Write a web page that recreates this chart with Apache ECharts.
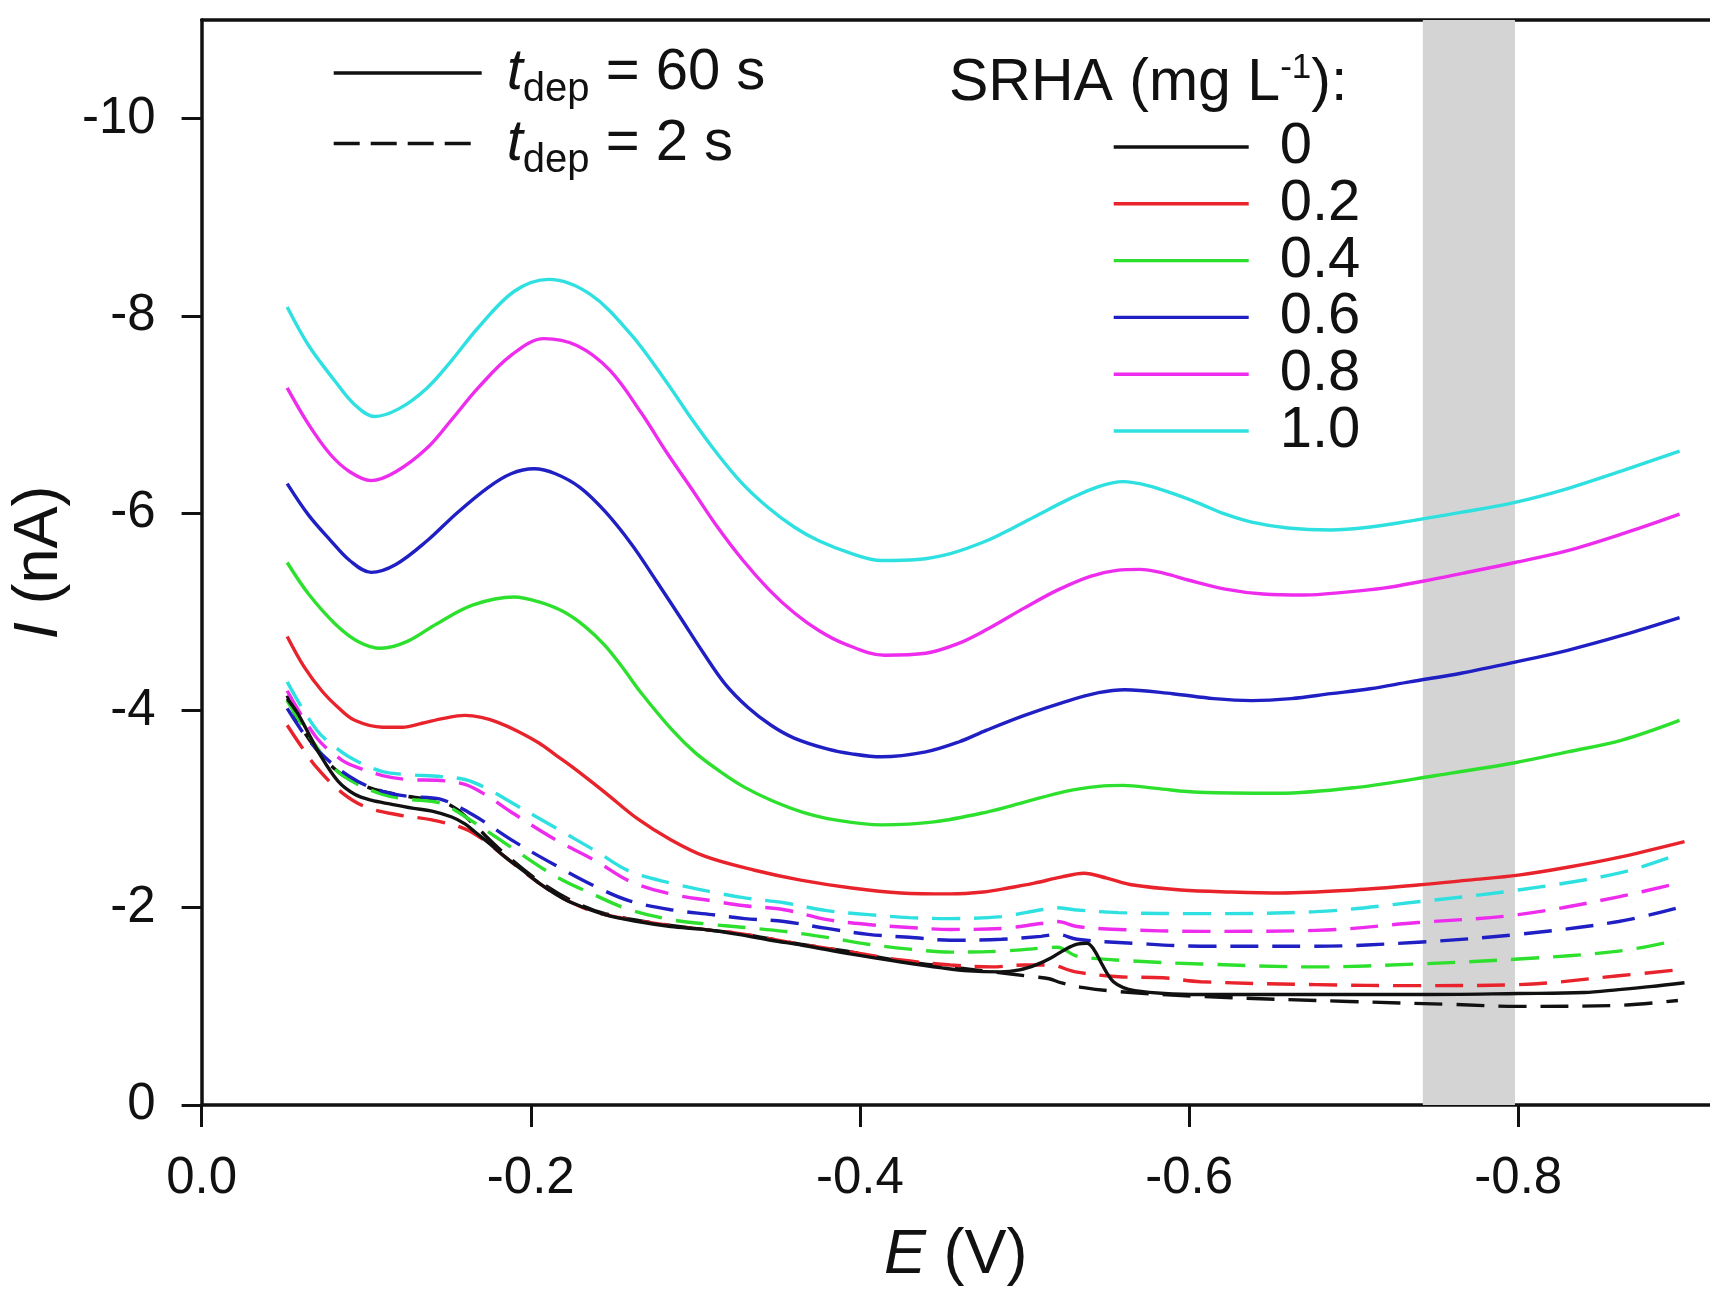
<!DOCTYPE html>
<html>
<head>
<meta charset="utf-8">
<script src="https://cdn.jsdelivr.net/npm/echarts@6/dist/echarts.min.js"></script>
<style>
html,body{margin:0;padding:0;background:#fff;}
#chart{width:1710px;height:1292px;}
</style>
</head>
<body>
<div id="chart"></div>
<script>
// ---------- data (E in V, I in nA) ----------
const concentrations = ['0', '0.2', '0.4', '0.6', '0.8', '1.0'];
const seriesColors = ['#111111', '#e8232b', '#2ee02e', '#1f1fc4', '#ee2cee', '#2fe0e0'];
const xTickValues = [0, -0.2, -0.4, -0.6, -0.8];
const yTickValues = [0, -2, -4, -6, -8, -10];
const bandStart = -0.742, bandEnd = -0.798;

// t_dep = 60 s (solid)
const solid_0 = [[-0.052,-4.12],[-0.058,-3.98],[-0.063,-3.83],[-0.072,-3.55],[-0.083,-3.28],[-0.093,-3.15],[-0.103,-3.09],[-0.115,-3.05],[-0.128,-3.01],[-0.14,-2.98],[-0.152,-2.92],[-0.16,-2.85],[-0.166,-2.77],[-0.175,-2.65],[-0.184,-2.52],[-0.195,-2.38],[-0.205,-2.25],[-0.215,-2.14],[-0.225,-2.05],[-0.245,-1.93],[-0.265,-1.86],[-0.285,-1.81],[-0.305,-1.78],[-0.326,-1.73],[-0.346,-1.67],[-0.365,-1.62],[-0.395,-1.53],[-0.425,-1.45],[-0.45,-1.39],[-0.466,-1.36],[-0.485,-1.35],[-0.497,-1.37],[-0.507,-1.42],[-0.516,-1.49],[-0.525,-1.58],[-0.532,-1.63],[-0.538,-1.64],[-0.542,-1.58],[-0.546,-1.46],[-0.55,-1.34],[-0.554,-1.25],[-0.56,-1.19],[-0.567,-1.16],[-0.585,-1.13],[-0.607,-1.12],[-0.65,-1.12],[-0.7,-1.12],[-0.74,-1.12],[-0.8,-1.13],[-0.84,-1.14],[-0.861,-1.17],[-0.88,-1.2],[-0.901,-1.24]];
const solid_02 = [[-0.052,-4.75],[-0.062,-4.45],[-0.073,-4.2],[-0.083,-4.03],[-0.093,-3.9],[-0.11,-3.83],[-0.122,-3.83],[-0.134,-3.87],[-0.147,-3.92],[-0.16,-3.95],[-0.17,-3.93],[-0.18,-3.88],[-0.192,-3.79],[-0.205,-3.67],[-0.215,-3.55],[-0.225,-3.43],[-0.245,-3.17],[-0.265,-2.9],[-0.285,-2.69],[-0.306,-2.52],[-0.336,-2.38],[-0.364,-2.28],[-0.395,-2.2],[-0.425,-2.15],[-0.455,-2.14],[-0.475,-2.16],[-0.49,-2.2],[-0.506,-2.25],[-0.522,-2.31],[-0.536,-2.35],[-0.55,-2.3],[-0.566,-2.23],[-0.595,-2.18],[-0.625,-2.16],[-0.656,-2.15],[-0.7,-2.18],[-0.739,-2.23],[-0.77,-2.28],[-0.8,-2.33],[-0.83,-2.41],[-0.861,-2.51],[-0.901,-2.67]];
const solid_04 = [[-0.052,-5.5],[-0.065,-5.18],[-0.081,-4.88],[-0.095,-4.7],[-0.109,-4.63],[-0.125,-4.7],[-0.143,-4.88],[-0.165,-5.07],[-0.19,-5.15],[-0.205,-5.1],[-0.22,-5.0],[-0.233,-4.85],[-0.245,-4.66],[-0.256,-4.43],[-0.267,-4.18],[-0.286,-3.8],[-0.3,-3.57],[-0.316,-3.37],[-0.33,-3.22],[-0.346,-3.09],[-0.365,-2.97],[-0.385,-2.89],[-0.413,-2.84],[-0.445,-2.87],[-0.477,-2.97],[-0.5,-3.07],[-0.525,-3.18],[-0.545,-3.23],[-0.56,-3.24],[-0.58,-3.21],[-0.606,-3.17],[-0.654,-3.16],[-0.702,-3.22],[-0.75,-3.34],[-0.798,-3.47],[-0.83,-3.58],[-0.863,-3.7],[-0.898,-3.9]];
const solid_06 = [[-0.052,-6.3],[-0.065,-5.98],[-0.078,-5.73],[-0.09,-5.52],[-0.103,-5.4],[-0.118,-5.48],[-0.137,-5.72],[-0.155,-6.0],[-0.174,-6.26],[-0.188,-6.4],[-0.202,-6.45],[-0.215,-6.4],[-0.23,-6.26],[-0.245,-6.02],[-0.261,-5.69],[-0.276,-5.32],[-0.291,-4.94],[-0.305,-4.58],[-0.318,-4.27],[-0.332,-4.03],[-0.346,-3.85],[-0.36,-3.72],[-0.38,-3.61],[-0.395,-3.56],[-0.413,-3.53],[-0.44,-3.58],[-0.46,-3.68],[-0.477,-3.8],[-0.5,-3.95],[-0.525,-4.09],[-0.545,-4.18],[-0.561,-4.21],[-0.59,-4.17],[-0.615,-4.12],[-0.638,-4.1],[-0.662,-4.12],[-0.686,-4.17],[-0.71,-4.22],[-0.734,-4.29],[-0.766,-4.38],[-0.798,-4.49],[-0.83,-4.61],[-0.863,-4.76],[-0.898,-4.94]];
const solid_08 = [[-0.052,-7.27],[-0.065,-6.9],[-0.078,-6.6],[-0.09,-6.42],[-0.103,-6.33],[-0.118,-6.42],[-0.137,-6.66],[-0.152,-6.95],[-0.168,-7.27],[-0.188,-7.6],[-0.208,-7.77],[-0.228,-7.7],[-0.248,-7.45],[-0.267,-7.02],[-0.282,-6.63],[-0.298,-6.24],[-0.313,-5.87],[-0.329,-5.52],[-0.345,-5.22],[-0.36,-4.99],[-0.375,-4.81],[-0.39,-4.68],[-0.415,-4.56],[-0.44,-4.58],[-0.46,-4.68],[-0.477,-4.82],[-0.5,-5.04],[-0.52,-5.22],[-0.54,-5.36],[-0.556,-5.42],[-0.57,-5.43],[-0.585,-5.39],[-0.6,-5.32],[-0.622,-5.23],[-0.645,-5.18],[-0.67,-5.17],[-0.695,-5.2],[-0.718,-5.24],[-0.742,-5.31],[-0.766,-5.39],[-0.798,-5.5],[-0.83,-5.62],[-0.865,-5.8],[-0.898,-5.99]];
const solid_10 = [[-0.052,-8.09],[-0.065,-7.7],[-0.081,-7.34],[-0.093,-7.1],[-0.105,-6.98],[-0.12,-7.06],[-0.137,-7.27],[-0.152,-7.55],[-0.168,-7.88],[-0.19,-8.25],[-0.211,-8.37],[-0.236,-8.22],[-0.261,-7.81],[-0.282,-7.34],[-0.298,-6.95],[-0.313,-6.61],[-0.328,-6.31],[-0.344,-6.06],[-0.36,-5.86],[-0.375,-5.72],[-0.395,-5.59],[-0.413,-5.52],[-0.435,-5.53],[-0.455,-5.59],[-0.477,-5.72],[-0.493,-5.85],[-0.509,-5.99],[-0.528,-6.15],[-0.545,-6.27],[-0.56,-6.32],[-0.575,-6.28],[-0.59,-6.2],[-0.606,-6.1],[-0.622,-5.99],[-0.638,-5.91],[-0.66,-5.85],[-0.686,-5.83],[-0.71,-5.86],[-0.734,-5.92],[-0.766,-6.01],[-0.798,-6.11],[-0.83,-6.25],[-0.863,-6.43],[-0.898,-6.63]];

// t_dep = 2 s (dashed)
const dashed_0 = [[-0.052,-4.15],[-0.06,-3.85],[-0.07,-3.6],[-0.08,-3.42],[-0.09,-3.3],[-0.105,-3.2],[-0.125,-3.13],[-0.145,-3.08],[-0.155,-3.0],[-0.165,-2.85],[-0.184,-2.55],[-0.205,-2.27],[-0.225,-2.07],[-0.245,-1.94],[-0.285,-1.82],[-0.326,-1.74],[-0.364,-1.63],[-0.395,-1.55],[-0.425,-1.46],[-0.455,-1.4],[-0.48,-1.35],[-0.506,-1.3],[-0.515,-1.28],[-0.522,-1.24],[-0.536,-1.19],[-0.557,-1.15],[-0.607,-1.1],[-0.697,-1.05],[-0.759,-1.02],[-0.8,-1.0],[-0.861,-1.01],[-0.897,-1.06]];
const dashed_02 = [[-0.052,-3.85],[-0.06,-3.65],[-0.07,-3.42],[-0.085,-3.17],[-0.1,-3.02],[-0.12,-2.94],[-0.14,-2.89],[-0.16,-2.8],[-0.172,-2.68],[-0.184,-2.52],[-0.205,-2.25],[-0.225,-2.05],[-0.245,-1.93],[-0.285,-1.82],[-0.326,-1.74],[-0.364,-1.63],[-0.395,-1.55],[-0.425,-1.47],[-0.455,-1.42],[-0.48,-1.4],[-0.5,-1.42],[-0.515,-1.42],[-0.531,-1.35],[-0.557,-1.3],[-0.584,-1.29],[-0.607,-1.25],[-0.677,-1.22],[-0.739,-1.21],[-0.8,-1.22],[-0.861,-1.31],[-0.897,-1.37]];
const dashed_04 = [[-0.052,-4.1],[-0.065,-3.75],[-0.08,-3.42],[-0.095,-3.25],[-0.11,-3.15],[-0.125,-3.1],[-0.145,-3.06],[-0.165,-2.87],[-0.19,-2.59],[-0.215,-2.32],[-0.24,-2.12],[-0.26,-1.98],[-0.285,-1.88],[-0.31,-1.83],[-0.33,-1.8],[-0.354,-1.76],[-0.38,-1.7],[-0.405,-1.63],[-0.43,-1.58],[-0.455,-1.55],[-0.486,-1.56],[-0.51,-1.59],[-0.52,-1.6],[-0.532,-1.51],[-0.566,-1.46],[-0.607,-1.43],[-0.677,-1.4],[-0.739,-1.43],[-0.8,-1.48],[-0.861,-1.56],[-0.897,-1.67]];
const dashed_06 = [[-0.052,-4.02],[-0.065,-3.7],[-0.08,-3.45],[-0.095,-3.28],[-0.11,-3.18],[-0.125,-3.13],[-0.145,-3.1],[-0.165,-2.94],[-0.19,-2.67],[-0.215,-2.43],[-0.24,-2.21],[-0.26,-2.07],[-0.285,-1.98],[-0.31,-1.93],[-0.33,-1.89],[-0.354,-1.86],[-0.38,-1.79],[-0.405,-1.73],[-0.43,-1.7],[-0.455,-1.67],[-0.486,-1.68],[-0.51,-1.71],[-0.52,-1.73],[-0.532,-1.68],[-0.566,-1.64],[-0.607,-1.61],[-0.677,-1.61],[-0.739,-1.65],[-0.8,-1.73],[-0.861,-1.86],[-0.897,-2.0]];
const dashed_08 = [[-0.052,-4.2],[-0.07,-3.72],[-0.085,-3.5],[-0.095,-3.42],[-0.11,-3.34],[-0.125,-3.3],[-0.145,-3.29],[-0.16,-3.25],[-0.172,-3.15],[-0.19,-2.95],[-0.215,-2.69],[-0.24,-2.47],[-0.26,-2.27],[-0.285,-2.14],[-0.31,-2.07],[-0.33,-2.02],[-0.354,-1.98],[-0.38,-1.88],[-0.405,-1.83],[-0.43,-1.8],[-0.455,-1.78],[-0.486,-1.79],[-0.51,-1.84],[-0.52,-1.86],[-0.532,-1.81],[-0.557,-1.78],[-0.607,-1.76],[-0.677,-1.77],[-0.739,-1.85],[-0.8,-1.93],[-0.861,-2.11],[-0.897,-2.25]];
const dashed_10 = [[-0.052,-4.29],[-0.07,-3.8],[-0.085,-3.58],[-0.095,-3.48],[-0.11,-3.38],[-0.125,-3.35],[-0.145,-3.33],[-0.16,-3.3],[-0.172,-3.22],[-0.19,-3.05],[-0.215,-2.81],[-0.24,-2.57],[-0.26,-2.37],[-0.285,-2.25],[-0.31,-2.16],[-0.33,-2.1],[-0.354,-2.05],[-0.38,-1.97],[-0.405,-1.93],[-0.43,-1.9],[-0.455,-1.89],[-0.486,-1.91],[-0.51,-1.98],[-0.52,-2.0],[-0.53,-1.98],[-0.557,-1.95],[-0.607,-1.94],[-0.677,-1.96],[-0.739,-2.06],[-0.8,-2.18],[-0.861,-2.35],[-0.897,-2.54]];

const solidData = [solid_0, solid_02, solid_04, solid_06, solid_08, solid_10];
const dashedData = [dashed_0, dashed_02, dashed_04, dashed_06, dashed_08, dashed_10];

// ---------- chart ----------
const FONT = "'Liberation Sans', Arial, Helvetica, sans-serif";
const LW = 3.4;
const DASH = [28, 14];

const series = [];
// gray band
series.push({
  type: 'line', data: [], silent: true, z: 1,
  markArea: {
    silent: true,
    itemStyle: { color: '#d4d4d4', borderWidth: 0 },
    data: [[{ xAxis: bandStart }, { xAxis: bandEnd }]]
  }
});
// legend-only series for t_dep
series.push({ name: 't60', type: 'line', data: [], symbol: 'none', lineStyle: { color: '#111', width: LW }, itemStyle: { color: '#111' } });
series.push({ name: 't2', type: 'line', data: [], symbol: 'none', lineStyle: { color: '#111', width: LW, type: [26, 11] }, itemStyle: { color: '#111' } });

// dashed first (behind), then solid
dashedData.forEach((d, i) => {
  series.push({
    name: concentrations[i] + ' (2 s)', type: 'line', data: d, symbol: 'none', smooth: 0.35,
    z: 3, lineStyle: { color: seriesColors[i], width: LW, type: DASH }, itemStyle: { color: seriesColors[i] }
  });
});
solidData.forEach((d, i) => {
  series.push({
    name: concentrations[i], type: 'line', data: d, symbol: 'none', smooth: 0.35,
    z: 4, lineStyle: { color: seriesColors[i], width: LW }, itemStyle: { color: seriesColors[i] }
  });
});

const chart = echarts.init(document.getElementById('chart'), null, { renderer: 'canvas' });
chart.setOption({
  animation: false,
  backgroundColor: '#ffffff',
  textStyle: { fontFamily: FONT, color: '#111' },
  grid: { left: 200, right: -4, top: 20, bottom: 186, containLabel: false },
  title: {
    left: 949, top: 51, padding: 0,
    text: '{a|SRHA (mg L}{s|-1}{a|):}',
    textStyle: {
      fontWeight: 'normal',
      rich: {
        a: { fontFamily: FONT, fontSize: 59, fontWeight: 'normal', color: '#111', lineHeight: 66 },
        s: { fontFamily: FONT, fontSize: 35, fontWeight: 'normal', color: '#111', verticalAlign: 'top', lineHeight: 40 }
      }
    }
  },
  legend: [
    {
      data: ['t60', 't2'], orient: 'vertical', left: 332, top: 44, padding: 0,
      itemWidth: 148, itemHeight: 20, itemGap: 4.5, selectedMode: false,
      itemStyle: { opacity: 0, borderWidth: 0 },
      lineStyle: { width: LW },
      formatter: function (n) {
        return '{t|t}{d|dep}{n| = ' + (n === 't60' ? '60' : '2') + ' s}';
      },
      textStyle: {
        padding: [0, 0, 0, 20],
        rich: {
          t: { fontFamily: FONT, fontSize: 58, fontStyle: 'italic', color: '#111', lineHeight: 74 },
          d: { fontFamily: FONT, fontSize: 40, color: '#111', lineHeight: 44, verticalAlign: 'bottom' },
          n: { fontFamily: FONT, fontSize: 58, color: '#111', lineHeight: 74 }
        }
      }
    },
    {
      data: concentrations, orient: 'vertical', left: 1112, top: 118, padding: 0,
      itemWidth: 135, itemHeight: 20, itemGap: -1.2, selectedMode: false,
      itemStyle: { opacity: 0, borderWidth: 0 },
      lineStyle: { width: LW },
      textStyle: { fontFamily: FONT, fontSize: 58, color: '#111', lineHeight: 57, padding: [0, 0, 0, 26] }
    }
  ],
  xAxis: [
    {
      type: 'value', inverse: true, min: -0.9165, max: 0,
      position: 'bottom',
      name: '{i|E} (V)', nameLocation: 'middle', nameGap: 119,
      nameTextStyle: {
        fontFamily: FONT, fontSize: 63, color: '#111',
        rich: { i: { fontFamily: FONT, fontSize: 63, fontStyle: 'italic', color: '#111' } }
      },
      axisLine: { show: true, onZero: false, lineStyle: { color: '#111', width: 3.5 } },
      axisTick: { show: true, inside: false, length: 22, customValues: xTickValues, lineStyle: { color: '#111', width: 3 } },
      axisLabel: {
        show: true, customValues: xTickValues, margin: 48,
        fontFamily: FONT, fontSize: 51, color: '#111',
        formatter: function (v) { return (Math.abs(v) < 1e-9 ? 0 : v).toFixed(1); }
      },
      splitLine: { show: false }
    },
    {
      type: 'value', inverse: true, min: -0.9165, max: 0, position: 'top',
      axisLine: { show: true, onZero: false, lineStyle: { color: '#111', width: 3.5 } },
      axisTick: { show: false }, axisLabel: { show: false }, splitLine: { show: false }
    }
  ],
  yAxis: {
    type: 'value', inverse: true, min: -11, max: 0,
    name: '{i|I} (nA)', nameLocation: 'middle', nameGap: 114, nameRotate: 90,
    nameTextStyle: {
      fontFamily: FONT, fontSize: 63, color: '#111',
      rich: { i: { fontFamily: FONT, fontSize: 63, fontStyle: 'italic', color: '#111' } }
    },
    axisLine: { show: true, onZero: false, lineStyle: { color: '#111', width: 3.5 } },
    axisTick: { show: true, inside: false, length: 20, customValues: yTickValues, lineStyle: { color: '#111', width: 3 } },
    axisLabel: { show: true, customValues: yTickValues, margin: 46, fontFamily: FONT, fontSize: 51, color: '#111' },
    splitLine: { show: false }
  },
  series: series
});
</script>
</body>
</html>
